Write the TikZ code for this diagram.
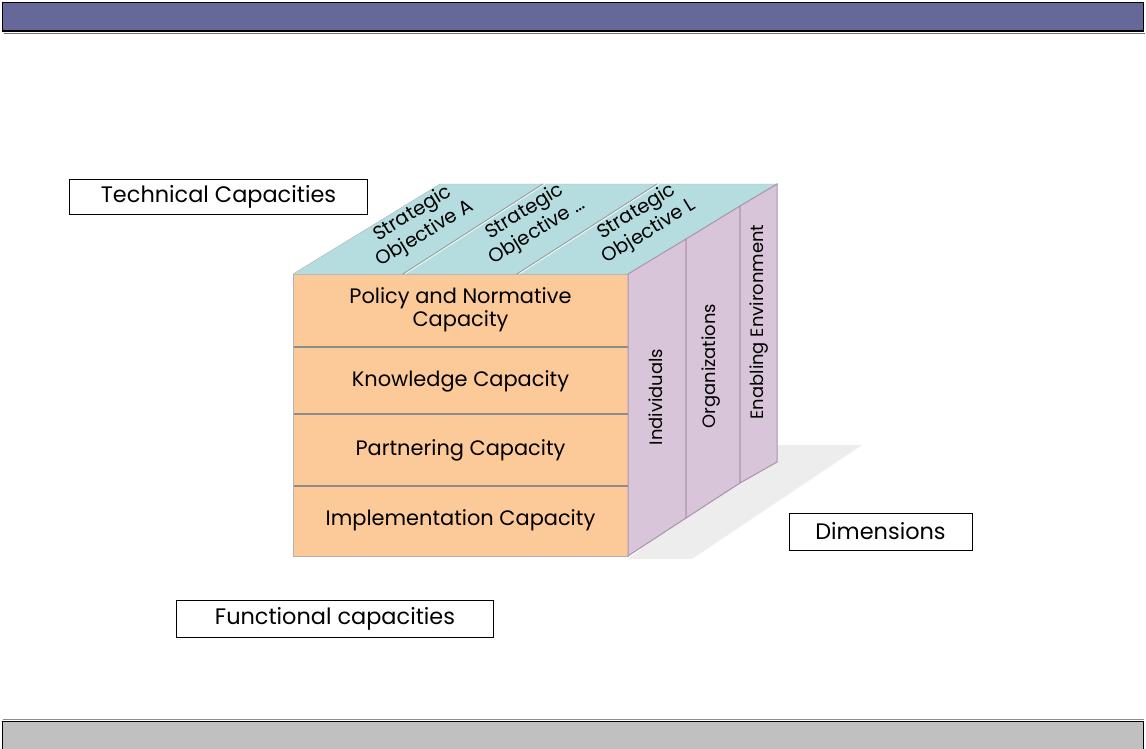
\documentclass[tikz,border=0pt]{standalone}
\usepackage{fontspec}
\setmainfont{Poppins}
\usetikzlibrary{positioning}

\definecolor{barblue}{HTML}{67689A}
\definecolor{bargray}{HTML}{C0C0C0}
\definecolor{frontpeach}{HTML}{FCC999}
\definecolor{topcyan}{HTML}{B5DDE0}
\definecolor{sidelilac}{HTML}{D9C5D9}
\definecolor{sideedge}{HTML}{A993A9}

\tikzset{
  labelbox/.style={draw=black, line width=1bp, fill=white, inner sep=0pt,
    font=\fontsize{22.5}{26}\selectfont},
  rowtext/.style={align=center, font=\fontsize{21}{23}\selectfont},
  toptext/.style={align=center, rotate=31.5, font=\fontsize{19.5}{23.5}\selectfont},
  sidetext/.style={rotate=90, font=\fontsize{18}{20}\selectfont},
  rowline/.style={draw=black!45, line width=1.2bp},
}

\begin{document}
\begin{tikzpicture}[x=1bp, y=-1bp]
    \useasboundingbox (0,0) rectangle (1146,749);

    % Bandeaux haut et bas
    \draw[black!55, line width=1.2bp] (4,33.5) -- (1145,33.5);
    \draw[line width=1.5bp, fill=barblue] (2.5,2.5) rectangle (1143.5,31);
    \fill[bargray] (2.5,721) rectangle (1143.5,749);
    \draw[black!45, line width=1bp] (2.5,719.5) -- (1143.5,719.5);
    \draw[line width=1.5bp] (2.5,749) -- (2.5,721.5) -- (1143.5,721.5) -- (1143.5,749);

    % Ombre au sol
    \fill[black!7] (628,559) -- (692,559) -- (862,445) -- (777,445) -- cycle;

    % Face avant
    \fill[frontpeach] (293,274) rectangle (628,556);
    \draw[rowline] (293,347) -- (628,347);
    \draw[rowline] (293,414) -- (628,414);
    \draw[rowline] (293,486) -- (628,486);
    \draw[black!30] (293,274) rectangle (628,556);

    % Face du dessus
    \fill[topcyan] (293,274) -- (440,184) -- (777,184) -- (628,274) -- cycle;
    \draw[black!30] (293,274) -- (440,184) -- (777,184);
    \foreach \a/\b in {403/543, 517/657} {
        \draw[black!40, line width=1bp] (\a,274) -- (\b,184);
        \draw[white!70!topcyan, line width=1bp] (\a+2,274) -- (\b+2,184);
    }

    % Face de droite
    \filldraw[fill=sidelilac, draw=sideedge, line width=1bp]
        (628,274) -- (686,239) -- (686,518) -- (628,556) -- cycle;
    \filldraw[fill=sidelilac, draw=sideedge, line width=1bp]
        (686,239) -- (740,206) -- (740,483) -- (686,518) -- cycle;
    \filldraw[fill=sidelilac, draw=sideedge, line width=1bp]
        (740,206) -- (777,184) -- (777,462) -- (740,483) -- cycle;

    % Textes de la face avant
    \node[rowtext] (policy) at (460.5,310) {Policy and Normative\\Capacity};
    \node[rowtext] (knowledge) at (460.5,381) {Knowledge Capacity};
    \node[rowtext] (partnering) at (460.5,450) {Partnering Capacity};
    \node[rowtext] (implementation) at (460.5,520) {Implementation Capacity};

    % Textes du dessus
    \node[toptext] (objA) at (419,224) {Strategic\\Objective A};
    \node[toptext] (objDots) at (531,222) {Strategic\\Objective \dots};
    \node[toptext] (objL) at (643,222) {Strategic\\Objective L};

    % Textes de droite
    \node[sidetext] (individuals) at (656,397) {Individuals};
    \node[sidetext] (organizations) at (711,366) {Organizations};
    \node[sidetext] (enabling) at (759,322) {Enabling Environment};

    % Etiquettes
    \node[labelbox, minimum width=297bp, minimum height=35bp] (technical)
        at (218.5,196.5) {Technical Capacities};
    \node[labelbox, minimum width=183bp, minimum height=37bp] (dimensions)
        at (880.5,531.5) {Dimensions};
    \node[labelbox, minimum width=316bp, minimum height=37bp] (functional)
        at (335,618.5) {Functional capacities};
\end{tikzpicture}
\end{document}
